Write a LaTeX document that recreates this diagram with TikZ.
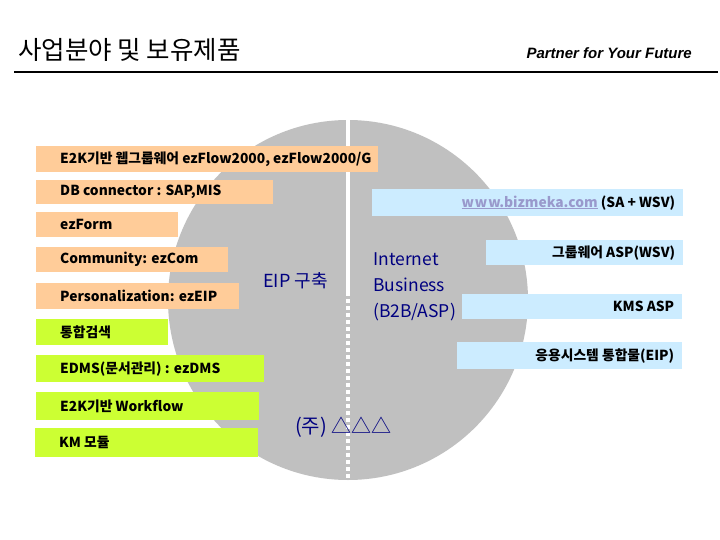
\documentclass[tikz,border=0pt]{standalone}
\usepackage{fontspec}
\setmainfont{Noto Sans CJK KR}
\newfontfamily\latinit{Liberation Sans}
\definecolor{peach}{HTML}{FFCC99}
\definecolor{lime}{HTML}{CCFF33}
\definecolor{sky}{HTML}{CCECFF}
\definecolor{disc}{HTML}{C0C0C0}
\definecolor{navyc}{HTML}{000080}
\definecolor{linkc}{HTML}{9999CC}
\newcommand\LeftTxt[2]{\hbox to #1pt{\hskip 24pt\relax #2\hfil}}
\newcommand\RightTxt[2]{\hbox to #1pt{\hfil #2\hskip 8pt\relax}}
\begin{document}
\begin{tikzpicture}[x=1pt,y=-1pt,
  boxbase/.style={anchor=north west, inner xsep=0pt, inner ysep=0pt,
    font=\bfseries\fontsize{13.8}{16}\selectfont, text=black},
  obox/.style={boxbase, fill=peach},
  gbox/.style={boxbase, fill=lime},
  bbox/.style={boxbase, fill=sky},
  bluelabel/.style={text=navyc, inner sep=0pt, anchor=west}]
\useasboundingbox (0,0) rectangle (720,540);
% header
\node[anchor=west, inner sep=0pt, font=\fontsize{25.5}{28}\selectfont] (title) at (18,50) {사업분야 및 보유제품};
\node[anchor=east, inner sep=0pt, font=\latinit\bfseries\itshape\fontsize{15}{17}\selectfont] (motto) at (692,53) {Partner for Your Future};
\coordinate (ruleL) at (14,72);
\coordinate (ruleR) at (718,72);
\draw[line width=1.2pt] (ruleL) -- (ruleR);
% disc
\coordinate (c) at (348,300);
\fill[disc] (c) circle[radius=180pt];
\coordinate (divTop) at (348,118);
\coordinate (divMid) at (348,292);
\coordinate (divBot) at (348,480);
\draw[white, line width=3.5pt] (divTop) -- (divMid);
\draw[white, line width=4pt, dash pattern=on 4pt off 3pt] (divMid) -- (divBot);
% left orange boxes
\node[obox, minimum height=26pt] (b1) at (36,146) {\LeftTxt{342}{E2K기반 웹그룹웨어 ezFlow2000, ezFlow2000/G}};
\node[obox, minimum height=24pt] (b2) at (36,180) {\LeftTxt{237}{DB connector : SAP,MIS}};
\node[obox, minimum height=25pt] (b3) at (36,212) {\LeftTxt{142}{ezForm}};
\node[obox, minimum height=25pt] (b4) at (36,247) {\LeftTxt{192}{Community: ezCom}};
\node[obox, minimum height=26pt] (b5) at (36,283) {\LeftTxt{203}{Personalization: ezEIP}};
% left green boxes
\node[gbox, minimum height=26pt] (g1) at (36,319) {\LeftTxt{132}{통합검색}};
\node[gbox, minimum height=27pt] (g2) at (36,355) {\LeftTxt{228}{EDMS(문서관리) : ezDMS}};
\node[gbox, minimum height=28pt] (g3) at (36,392) {\LeftTxt{223}{E2K기반 Workflow}};
\node[gbox, minimum height=29pt] (g4) at (35,428) {\LeftTxt{223}{KM 모듈}};
% right blue boxes
\node[bbox, minimum height=27pt] (r1) at (372,189) {\RightTxt{311}{{\color{linkc}\underline{w\kern1pt w\kern1pt w.bizmeka.com}} (SA + WSV)}};
\node[bbox, minimum height=25pt] (r2) at (486,240) {\RightTxt{197}{그룹웨어 ASP(WSV)}};
\node[bbox, minimum height=25pt] (r3) at (462,294) {\RightTxt{220}{KMS ASP}};
\node[bbox, minimum height=27pt] (r4) at (457,342) {\RightTxt{225}{응용시스템 통합물(EIP)}};
% labels on the disc
\node[bluelabel, font=\fontsize{18}{20}\selectfont] (eip) at (263,281) {EIP 구축};
\node[bluelabel, align=left, font=\fontsize{17.5}{26}\selectfont] (inet) at (373,287) {Internet\\Business\\(B2B/ASP)};
\node[bluelabel, font=\fontsize{20}{22}\selectfont] (corp) at (295,427) {(주) △△△};
\end{tikzpicture}
\end{document}
